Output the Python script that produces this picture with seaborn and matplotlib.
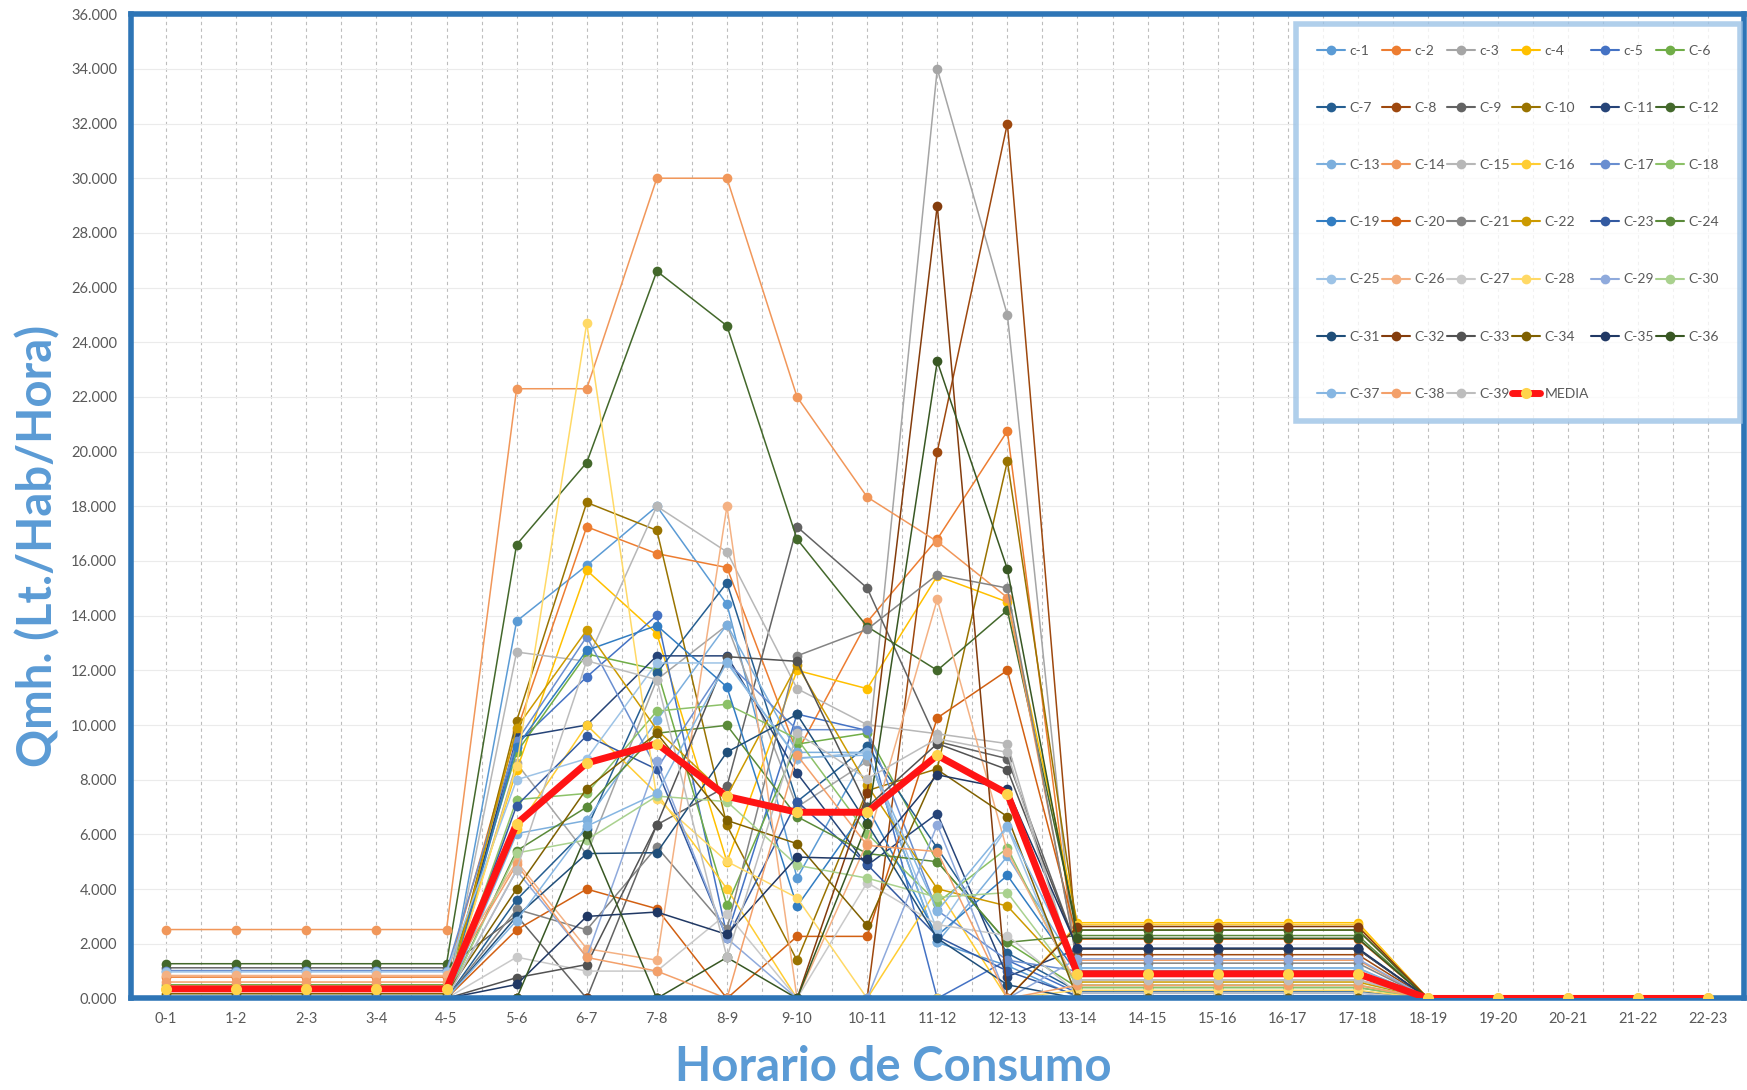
import matplotlib
matplotlib.use("Agg")
import numpy as np
import pandas as pd
import matplotlib.pyplot as plt
from matplotlib.lines import Line2D
import seaborn as sns

# Categories (hour ranges)
horas = ["0-1", "1-2", "2-3", "3-4", "4-5", "5-6", "6-7", "7-8", "8-9", "9-10", "10-11",
         "11-12", "12-13", "13-14", "14-15", "15-16", "16-17", "17-18", "18-19", "19-20",
         "20-21", "21-22", "22-23"]

# Consumption per series
c01 = [0, 0, 0, 0, 0, 13.8, 15.84, 18.0, 14.42, 4.4, 9.0, 2.05, 1.2, 0.05, 0.05, 0.05, 0.05, 0.05, 0, 0, 0, 0, 0]
c02 = [0.78, 0.78, 0.78, 0.78, 0.78, 9.78, 17.25, 16.27, 15.76, 9.0, 13.77, 16.8, 20.75, 1.0, 1.0, 1.0, 1.0, 1.0, 0, 0, 0, 0, 0]
c03 = [0, 0, 0, 0, 0, 8.6, 5.27, 11.66, 13.65, 7.0, 8.67, 34.0, 25.0, 0.68, 0.68, 0.68, 0.68, 0.68, 0, 0, 0, 0, 0]
c04 = [0.33, 0.33, 0.33, 0.33, 0.33, 8.34, 15.66, 13.34, 5.0, 12.0, 11.33, 15.45, 14.5, 2.77, 2.77, 2.77, 2.77, 2.77, 0, 0, 0, 0, 0]
c05 = [0, 0, 0, 0, 0, 9.3, 11.76, 14.01, 2.3, 10.4, 9.8, 0, 1.4, 0.2, 0.2, 0.2, 0.2, 0.2, 0, 0, 0, 0, 0]
c06 = [0.5, 0.5, 0.5, 0.5, 0.5, 9.0, 12.6, 12.03, 3.4, 9.3, 9.7, 5.0, 2.05, 0.4, 0.4, 0.4, 0.4, 0.4, 0, 0, 0, 0, 0]
c07 = [0, 0, 0, 0, 0, 3.61, 6.21, 11.9, 15.2, 7.2, 9.24, 5.5, 1.66, 0.27, 0.27, 0.27, 0.27, 0.27, 0, 0, 0, 0, 0]
c08 = [0, 0, 0, 0, 0, 0, 0, 0, 0, 0, 0, 20.0, 32.0, 1.6, 1.6, 1.6, 1.6, 1.6, 0, 0, 0, 0, 0]
c09 = [1.12, 1.12, 1.12, 1.12, 1.12, 3.03, 0, 6.35, 7.76, 17.25, 15.01, 9.4, 8.77, 1.8, 1.8, 1.8, 1.8, 1.8, 0, 0, 0, 0, 0]
c10 = [0, 0, 0, 0, 0, 10.15, 18.14, 17.12, 6.33, 1.39, 7.6, 8.4, 19.65, 2.5, 2.5, 2.5, 2.5, 2.5, 0, 0, 0, 0, 0]
c11 = [0, 0, 0, 0, 0, 9.55, 10.0, 12.53, 12.53, 8.24, 4.87, 6.76, 0.8, 1.8, 1.8, 1.8, 1.8, 1.8, 0, 0, 0, 0, 0]
c12 = [1.27, 1.27, 1.27, 1.27, 1.27, 16.6, 19.6, 26.6, 24.6, 16.8, 13.6, 12.0, 14.2, 2.5, 2.5, 2.5, 2.5, 2.5, 0, 0, 0, 0, 0]
c13 = [0, 0, 0, 0, 0, 6.03, 6.51, 10.17, 13.67, 9.0, 9.0, 2.05, 5.2, 1.12, 1.12, 1.12, 1.12, 1.12, 0, 0, 0, 0, 0]
c14 = [2.52, 2.52, 2.52, 2.52, 2.52, 22.3, 22.3, 30.0, 30.0, 22.0, 18.34, 16.71, 14.66, 1.4, 1.4, 1.4, 1.4, 1.4, 0, 0, 0, 0, 0]
c15 = [0, 0, 0, 0, 0, 12.67, 12.33, 18.0, 16.33, 11.33, 10.01, 9.68, 9.32, 0.68, 0.68, 0.68, 0.68, 0.68, 0, 0, 0, 0, 0]
c16 = [0.3, 0.3, 0.3, 0.3, 0.3, 6.2, 10.0, 7.49, 4.01, 0, 0, 4.0, 0, 2.7, 2.7, 2.7, 2.7, 2.7, 0, 0, 0, 0, 0]
c17 = [1.02, 1.02, 1.02, 1.02, 1.02, 9.4, 13.23, 8.4, 12.3, 9.83, 9.83, 3.22, 1.4, 1.0, 1.0, 1.0, 1.0, 1.0, 0, 0, 0, 0, 0]
c18 = [0, 0, 0, 0, 0, 7.27, 7.5, 10.51, 10.76, 9.5, 6.03, 3.5, 5.5, 0.4, 0.4, 0.4, 0.4, 0.4, 0, 0, 0, 0, 0]
c19 = [0, 0, 0, 0, 0, 9.2, 12.73, 13.64, 11.39, 3.37, 7.0, 2.3, 4.5, 0.9, 0.9, 0.9, 0.9, 0.9, 0, 0, 0, 0, 0]
c20 = [0, 0, 0, 0, 0, 2.51, 4.0, 3.28, 0, 2.27, 2.27, 10.26, 12.0, 2.17, 2.17, 2.17, 2.17, 2.17, 0, 0, 0, 0, 0]
c21 = [0, 0, 0, 0, 0, 3.26, 2.51, 5.54, 2.55, 12.53, 13.5, 15.5, 15.01, 1.29, 1.29, 1.29, 1.29, 1.29, 0, 0, 0, 0, 0]
c22 = [0, 0, 0, 0, 0, 9.9, 13.47, 9.83, 7.4, 12.2, 7.8, 4.01, 3.38, 0.6, 0.6, 0.6, 0.6, 0.6, 0, 0, 0, 0, 0]
c23 = [0, 0, 0, 0, 0, 7.05, 9.61, 8.38, 2.2, 7.2, 4.9, 2.27, 1.0, 0.1, 0.1, 0.1, 0.1, 0.1, 0, 0, 0, 0, 0]
c24 = [0, 0, 0, 0, 0, 5.4, 7.0, 9.7, 9.99, 6.65, 5.3, 5.0, 2.05, 2.3, 2.3, 2.3, 2.3, 2.3, 0, 0, 0, 0, 0]
c25 = [0.97, 0.97, 0.97, 0.97, 0.97, 8.0, 8.77, 12.27, 12.27, 8.77, 9.0, 2.5, 6.26, 0.05, 0.05, 0.05, 0.05, 0.05, 0, 0, 0, 0, 0]
c26 = [0.84, 0.84, 0.84, 0.84, 0.84, 5.01, 1.82, 1.4, 18.0, 0, 5.7, 14.6, 5.37, 0.48, 0.48, 0.48, 0.48, 0.48, 0, 0, 0, 0, 0]
c27 = [0, 0, 0, 0, 0, 1.51, 1.0, 1.0, 3.1, 0, 4.24, 2.7, 2.3, 0.2, 0.2, 0.2, 0.2, 0.2, 0, 0, 0, 0, 0]
c28 = [0, 0, 0, 0, 0, 8.5, 24.7, 7.3, 5.01, 3.68, 0, 0, 0, 0.3, 0.3, 0.3, 0.3, 0.3, 0, 0, 0, 0, 0]
c29 = [0, 0, 0, 0, 0, 4.68, 1.51, 8.67, 2.2, 0, 0, 6.35, 0, 1.45, 1.45, 1.45, 1.45, 1.45, 0, 0, 0, 0, 0]
c30 = [0, 0, 0, 0, 0, 5.32, 5.8, 7.4, 7.2, 4.87, 4.4, 3.7, 3.87, 0.5, 0.5, 0.5, 0.5, 0.5, 0, 0, 0, 0, 0]
c31 = [0, 0, 0, 0, 0, 3.0, 5.3, 5.33, 9.01, 10.39, 6.4, 2.2, 0.5, 0, 0, 0, 0, 0, 0, 0, 0, 0, 0]
c32 = [0, 0, 0, 0, 0, 0, 0, 0, 0, 0, 7.5, 29.0, 0, 2.63, 2.63, 2.63, 2.63, 2.63, 0, 0, 0, 0, 0]
c33 = [0, 0, 0, 0, 0, 0.76, 1.24, 6.35, 12.5, 12.33, 7.0, 9.32, 8.37, 1.8, 1.8, 1.8, 1.8, 1.8, 0, 0, 0, 0, 0]
c34 = [0.17, 0.17, 0.17, 0.17, 0.17, 4.0, 7.67, 9.7, 6.51, 5.66, 2.67, 8.37, 6.65, 0, 0, 0, 0, 0, 0, 0, 0, 0, 0]
c35 = [0, 0, 0, 0, 0, 0.51, 3.0, 3.16, 2.34, 5.17, 5.1, 8.18, 7.67, 1.84, 1.84, 1.84, 1.84, 1.84, 0, 0, 0, 0, 0]
c36 = [0, 0, 0, 0, 0, 0, 6.03, 0, 1.5, 0, 6.39, 23.3, 15.7, 2.2, 2.2, 2.2, 2.2, 2.2, 0, 0, 0, 0, 0]
c37 = [0, 0, 0, 0, 0, 2.85, 6.3, 7.5, 12.3, 8.8, 8.9, 3.2, 6.3, 1.1, 1.1, 1.1, 1.1, 1.1, 0, 0, 0, 0, 0]
c38 = [0.6, 0.6, 0.6, 0.6, 0.6, 4.9, 1.5, 1.0, 0, 8.9, 5.6, 5.37, 0, 0.48, 0.48, 0.48, 0.48, 0.48, 0, 0, 0, 0, 0]
c39 = [0, 0, 0, 0, 0, 4.7, 12.35, 11.66, 1.51, 9.7, 8.03, 9.5, 9.0, 0.68, 0.68, 0.68, 0.68, 0.68, 0, 0, 0, 0, 0]
media = [0.35, 0.35, 0.35, 0.35, 0.35, 6.39, 8.61, 9.32, 7.39, 6.81, 6.81, 8.89, 7.49, 0.9, 0.9, 0.9, 0.9, 0.9, 0, 0, 0, 0, 0]

nombres = ["c-1", "c-2", "c-3", "c-4", "c-5"] + ["C-%d" % i for i in range(6, 40)]
colores = ["#5B9BD5", "#ED7D31", "#A5A5A5", "#FFC000", "#4472C4", "#70AD47",
           "#255E91", "#9E480E", "#636363", "#997300", "#264478", "#43682B",
           "#7CAFDD", "#F1975A", "#B7B7B7", "#FFCD33", "#698ED0", "#8CC168",
           "#327DC2", "#D26012", "#848484", "#CC9A00", "#335AA1", "#5A8A39",
           "#9DC3E6", "#F4B183", "#C9C9C9", "#FFD966", "#8FAADC", "#A9D18E",
           "#1F4E79", "#843C0C", "#525252", "#7F6000", "#203864", "#385723",
           "#86B6E2", "#F3A06A", "#BDBDBD"]
series = [c01, c02, c03, c04, c05, c06, c07, c08, c09, c10, c11, c12, c13,
          c14, c15, c16, c17, c18, c19, c20, c21, c22, c23, c24, c25, c26,
          c27, c28, c29, c30, c31, c32, c33, c34, c35, c36, c37, c38, c39]

# Long table for seaborn
filas = []
for nombre, vals in zip(nombres, series):
    for i, v in enumerate(vals):
        filas.append({"serie": nombre, "x": i, "valor": v})
df = pd.DataFrame(filas)

sns.set_style("white")
plt.rcParams["font.family"] = ["Lato", "DejaVu Sans"]

fig = plt.figure(figsize=(17.47, 10.90), dpi=100)
ax = fig.add_axes([0.075, 0.084, 0.923, 0.903])

sns.lineplot(data=df, x="x", y="valor", hue="serie", hue_order=nombres,
             palette=colores, marker="o", markersize=7, markeredgewidth=0,
             linewidth=1.1, errorbar=None, sort=False, legend=False, ax=ax)

sns.lineplot(x=list(range(len(horas))), y=media, color="#FF1414", linewidth=5,
             marker="o", markersize=8, markerfacecolor="#FFD34A",
             markeredgewidth=0, errorbar=None, ax=ax, zorder=10)

# Axes and grid
ax.set_xlim(-0.5, len(horas) - 0.5)
ax.set_ylim(0, 36)
ax.set_xticks(range(len(horas)))
ax.set_xticklabels(horas)
ax.set_xticks(np.arange(-0.5, len(horas), 1.0), minor=True)
ax.set_yticks(np.arange(0, 37, 2))
ax.set_yticklabels(["%.3f" % v for v in np.arange(0, 37, 2)])
ax.tick_params(axis="both", which="both", length=0, labelsize=10.5,
               labelcolor="#595959", pad=10)
ax.grid(axis="x", which="both", linestyle=(0, (3, 3)), color="#BDBDBD", linewidth=0.8)
ax.grid(axis="y", which="major", linestyle="-", color="#EBEBEB", linewidth=0.8)
ax.set_axisbelow(True)
for s in ax.spines.values():
    s.set_color("#2E75B6")
    s.set_linewidth(4)

ax.set_xlabel("Horario de Consumo", fontsize=34, fontweight="bold", color="#5B9BD5")
ax.set_ylabel("Qmh. (Lt./Hab/Hora)", fontsize=34, fontweight="bold", color="#5B9BD5")
ax.xaxis.set_label_coords(0.473, -0.047)
ax.yaxis.set_label_coords(-0.044, 0.46)

# Legend laid out row by row like the reference
handles = [Line2D([0], [0], color=c, lw=1.5, marker="o", markersize=7, markeredgewidth=0)
           for c in colores]
handles.append(Line2D([0], [0], color="#FF1414", lw=5, marker="o", markersize=8,
                      markerfacecolor="#FFD34A", markeredgewidth=0))
etiquetas = nombres + ["MEDIA"]
ncol = 6
orden = [i for col in range(ncol) for i in range(col, len(etiquetas), ncol)]
leg = ax.legend([handles[i] for i in orden], [etiquetas[i] for i in orden],
                ncol=ncol, loc="upper left", bbox_to_anchor=(0.7225, 0.58, 0.2755, 0.41),
                mode="expand", fontsize=10, labelspacing=3.25, handlelength=2.0,
                handletextpad=0.35, borderpad=1.5, borderaxespad=0, frameon=True,
                fancybox=False, labelcolor="#595959")
leg.get_frame().set_edgecolor("#9DC3E6")
leg.get_frame().set_linewidth(4)
leg.set_zorder(20)

fig.savefig("out.png", dpi=100)
